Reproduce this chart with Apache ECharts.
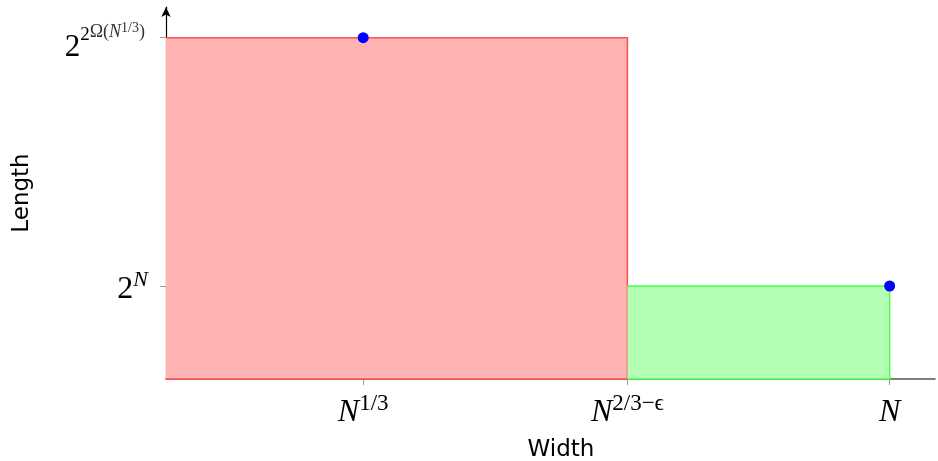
<!DOCTYPE html>
<html>
<head>
<meta charset="utf-8">
<script src="https://cdn.jsdelivr.net/npm/echarts@6/dist/echarts.min.js"></script>
<style>
  html, body { margin: 0; padding: 0; background: #fff; }
  #chart { width: 938px; height: 461px; }
</style>
</head>
<body>
<div id="chart"></div>
<script>
// positions on the schematic axes (arbitrary units)
const xTicks = [1.0, 2.34, 3.67];
const xTickLabels = ['{n|N}{sup|1/3}', '{n|N}{sup|2/3−ϵ}', '{n|N}'];
const yTicks = [1, 3.67];
const yTickLabels = ['{b|2}{si|N}', '{bt|2}{s1|2}{s2|Ω(}{s2i|N}{s3|1/3}{s2e|)}'];

// rectangles: [xStart, xEnd, height]
const redRect = [0, 2.34, 3.67];
const greenRect = [2.34, 3.67, 1];

// blue points
const points = [[1.0, 3.67], [3.67, 1]];

const serif = 'Liberation Serif';
const sans = 'DejaVu Sans';

// filled box, outlined on top, right and bottom only
function rectItem(fill, stroke) {
  return function (params, api) {
    const p0 = api.coord([api.value(0), api.value(2)]);
    const p1 = api.coord([api.value(1), 0]);
    return {
      type: 'group',
      children: [
        {
          type: 'rect',
          shape: { x: p0[0], y: p0[1], width: p1[0] - p0[0], height: p1[1] - p0[1] },
          style: { fill: fill }
        },
        {
          type: 'polyline',
          shape: { points: [[p0[0], p0[1]], [p1[0], p0[1]], [p1[0], p1[1]], [p0[0], p1[1]]] },
          style: { stroke: stroke, lineWidth: 1.5, fill: null }
        }
      ]
    };
  };
}

// superscript pieces sit on the line bottom, raised by bottom padding
function sup(size, raise, italic, color) {
  return {
    fontFamily: serif, fontStyle: italic ? 'italic' : 'normal', fontSize: size, lineHeight: size,
    color: color || '#000', verticalAlign: 'bottom', padding: [0, 0, raise, 0]
  };
}

const chart = echarts.init(document.getElementById('chart'));
chart.setOption({
  animation: false,
  grid: { left: 166, right: 3, top: 7, bottom: 82, containLabel: false, outerBoundsMode: 'none' },
  xAxis: {
    type: 'value', min: 0, max: 3.9,
    name: 'Width', nameLocation: 'middle', nameGap: 60,
    nameTextStyle: { fontFamily: sans, fontSize: 23, color: '#000', padding: [0, 0, 0, 21] },
    axisLine: { lineStyle: { color: '#555', width: 1.5 } },
    axisTick: { customValues: xTicks, length: 6, lineStyle: { color: '#999' } },
    splitLine: { show: false },
    axisLabel: {
      customValues: xTicks, margin: 18,
      formatter: function (v) { return xTickLabels[xTicks.indexOf(v)]; },
      rich: {
        n: { fontFamily: serif, fontStyle: 'italic', fontSize: 32, lineHeight: 32, color: '#000', verticalAlign: 'bottom' },
        sup: sup(23, 14)
      }
    }
  },
  yAxis: {
    type: 'value', min: 0, max: 4.0,
    name: 'Length', nameLocation: 'middle', nameGap: 132,
    nameTextStyle: { fontFamily: sans, fontSize: 23, color: '#000' },
    axisLine: { symbol: ['none', 'arrow'], symbolSize: [7, 10], lineStyle: { color: '#000', width: 1.2 } },
    axisTick: { show: true, customValues: yTicks, length: 6, lineStyle: { color: '#999' } },
    splitLine: { show: false },
    axisLabel: {
      customValues: yTicks, margin: 18,
      formatter: function (v) { return yTickLabels[yTicks.indexOf(v)]; },
      rich: {
        b: { fontFamily: serif, fontSize: 32, lineHeight: 40, color: '#000', verticalAlign: 'bottom' },
        si: sup(22, 15, true),
        bt: { fontFamily: serif, fontSize: 31, lineHeight: 51, color: '#000', verticalAlign: 'bottom' },
        s1: sup(19, 19),
        s2: sup(18, 22, false, '#333'),
        s2i: sup(18, 22, true, '#333'),
        s3: sup(14, 28, false, '#333'),
        s2e: { fontFamily: serif, fontSize: 18, lineHeight: 18, color: '#333', verticalAlign: 'bottom', padding: [0, 3, 22, 0] }
      }
    }
  },
  series: [
    {
      type: 'custom', renderItem: rectItem('#ffb3b3', '#ff5050'),
      data: [redRect], z: 2, silent: true
    },
    {
      type: 'custom', renderItem: rectItem('#b3ffb3', '#4cff4c'),
      data: [greenRect], z: 2, silent: true
    },
    {
      type: 'scatter', data: points, symbolSize: 11, z: 5,
      itemStyle: { color: '#0000ff', opacity: 1 }
    }
  ]
});
</script>
</body>
</html>
